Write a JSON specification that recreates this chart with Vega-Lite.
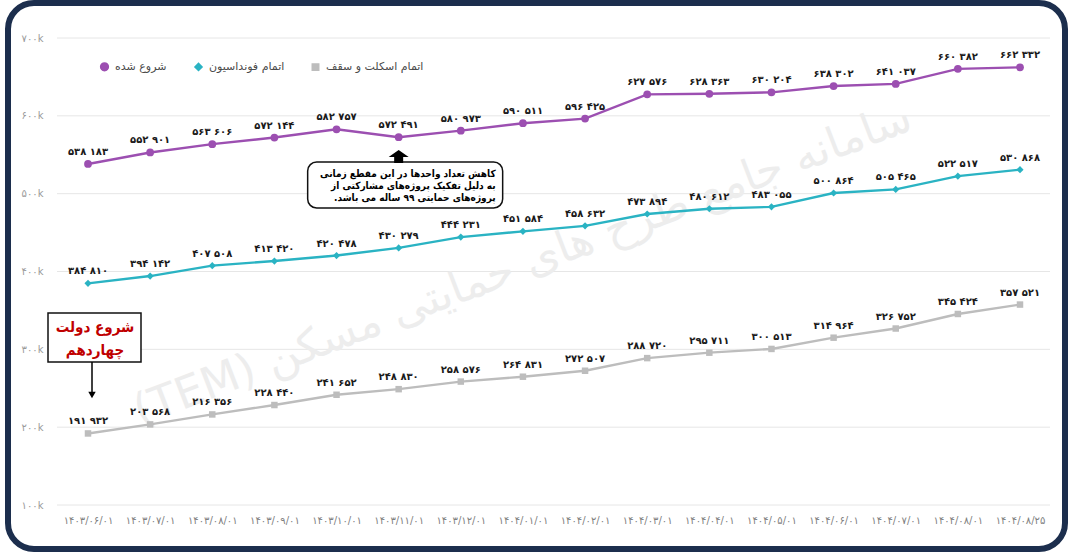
{
  "$schema": "https://vega.github.io/schema/vega-lite/v6.json",
  "width": 1057,
  "height": 546,
  "autosize": {"type": "none"},
  "padding": {"left": 8, "top": 3, "right": 8, "bottom": 5},
  "background": "white",
  "config": {
    "view": {"stroke": "#1c2e4d", "strokeWidth": 6, "cornerRadius": 26, "fill": "white"},
    "font": "DejaVu Sans",
    "axis": {"grid": false, "domain": false, "ticks": false, "title": null},
    "axisX": {"labelAngle": 0, "offset": -34, "labelPadding": 0, "tickSize": 0, "labelColor": "#808080", "labelFontSize": 10, "labelOverlap": false},
    "axisY": {"offset": -35, "labelPadding": 0, "tickSize": 0, "labelColor": "#9a9a9a", "labelFontSize": 10},
    "locale": {
      "number": {
        "decimal": ".",
        "thousands": " ",
        "grouping": [3],
        "currency": ["", ""],
        "numerals": ["۰", "۱", "۲", "۳", "۴", "۵", "۶", "۷", "۸", "۹"]
      }
    }
  },
  "datasets": {
    "series": [
      {"date": "۱۴۰۳/۰۶/۰۱", "series": "شروع شده", "value": 538183},
      {"date": "۱۴۰۳/۰۷/۰۱", "series": "شروع شده", "value": 552901},
      {"date": "۱۴۰۳/۰۸/۰۱", "series": "شروع شده", "value": 563606},
      {"date": "۱۴۰۳/۰۹/۰۱", "series": "شروع شده", "value": 572144},
      {"date": "۱۴۰۳/۱۰/۰۱", "series": "شروع شده", "value": 582757},
      {"date": "۱۴۰۳/۱۱/۰۱", "series": "شروع شده", "value": 572491},
      {"date": "۱۴۰۳/۱۲/۰۱", "series": "شروع شده", "value": 580973},
      {"date": "۱۴۰۴/۰۱/۰۱", "series": "شروع شده", "value": 590511},
      {"date": "۱۴۰۴/۰۲/۰۱", "series": "شروع شده", "value": 596425},
      {"date": "۱۴۰۴/۰۳/۰۱", "series": "شروع شده", "value": 627576},
      {"date": "۱۴۰۴/۰۴/۰۱", "series": "شروع شده", "value": 628363},
      {"date": "۱۴۰۴/۰۵/۰۱", "series": "شروع شده", "value": 630204},
      {"date": "۱۴۰۴/۰۶/۰۱", "series": "شروع شده", "value": 638302},
      {"date": "۱۴۰۴/۰۷/۰۱", "series": "شروع شده", "value": 641037},
      {"date": "۱۴۰۴/۰۸/۰۱", "series": "شروع شده", "value": 660382},
      {"date": "۱۴۰۴/۰۸/۲۵", "series": "شروع شده", "value": 662332},
      {"date": "۱۴۰۳/۰۶/۰۱", "series": "اتمام فونداسیون", "value": 384810},
      {"date": "۱۴۰۳/۰۷/۰۱", "series": "اتمام فونداسیون", "value": 394142},
      {"date": "۱۴۰۳/۰۸/۰۱", "series": "اتمام فونداسیون", "value": 407508},
      {"date": "۱۴۰۳/۰۹/۰۱", "series": "اتمام فونداسیون", "value": 413420},
      {"date": "۱۴۰۳/۱۰/۰۱", "series": "اتمام فونداسیون", "value": 420478},
      {"date": "۱۴۰۳/۱۱/۰۱", "series": "اتمام فونداسیون", "value": 430279},
      {"date": "۱۴۰۳/۱۲/۰۱", "series": "اتمام فونداسیون", "value": 444231},
      {"date": "۱۴۰۴/۰۱/۰۱", "series": "اتمام فونداسیون", "value": 451584},
      {"date": "۱۴۰۴/۰۲/۰۱", "series": "اتمام فونداسیون", "value": 458632},
      {"date": "۱۴۰۴/۰۳/۰۱", "series": "اتمام فونداسیون", "value": 473894},
      {"date": "۱۴۰۴/۰۴/۰۱", "series": "اتمام فونداسیون", "value": 480612},
      {"date": "۱۴۰۴/۰۵/۰۱", "series": "اتمام فونداسیون", "value": 483055},
      {"date": "۱۴۰۴/۰۶/۰۱", "series": "اتمام فونداسیون", "value": 500864},
      {"date": "۱۴۰۴/۰۷/۰۱", "series": "اتمام فونداسیون", "value": 505465},
      {"date": "۱۴۰۴/۰۸/۰۱", "series": "اتمام فونداسیون", "value": 522517},
      {"date": "۱۴۰۴/۰۸/۲۵", "series": "اتمام فونداسیون", "value": 530868},
      {"date": "۱۴۰۳/۰۶/۰۱", "series": "اتمام اسکلت و سقف", "value": 191932},
      {"date": "۱۴۰۳/۰۷/۰۱", "series": "اتمام اسکلت و سقف", "value": 203568},
      {"date": "۱۴۰۳/۰۸/۰۱", "series": "اتمام اسکلت و سقف", "value": 216356},
      {"date": "۱۴۰۳/۰۹/۰۱", "series": "اتمام اسکلت و سقف", "value": 228440},
      {"date": "۱۴۰۳/۱۰/۰۱", "series": "اتمام اسکلت و سقف", "value": 241652},
      {"date": "۱۴۰۳/۱۱/۰۱", "series": "اتمام اسکلت و سقف", "value": 248830},
      {"date": "۱۴۰۳/۱۲/۰۱", "series": "اتمام اسکلت و سقف", "value": 258576},
      {"date": "۱۴۰۴/۰۱/۰۱", "series": "اتمام اسکلت و سقف", "value": 264831},
      {"date": "۱۴۰۴/۰۲/۰۱", "series": "اتمام اسکلت و سقف", "value": 272507},
      {"date": "۱۴۰۴/۰۳/۰۱", "series": "اتمام اسکلت و سقف", "value": 288720},
      {"date": "۱۴۰۴/۰۴/۰۱", "series": "اتمام اسکلت و سقف", "value": 295711},
      {"date": "۱۴۰۴/۰۵/۰۱", "series": "اتمام اسکلت و سقف", "value": 300513},
      {"date": "۱۴۰۴/۰۶/۰۱", "series": "اتمام اسکلت و سقف", "value": 314964},
      {"date": "۱۴۰۴/۰۷/۰۱", "series": "اتمام اسکلت و سقف", "value": 326752},
      {"date": "۱۴۰۴/۰۸/۰۱", "series": "اتمام اسکلت و سقف", "value": 345424},
      {"date": "۱۴۰۴/۰۸/۲۵", "series": "اتمام اسکلت و سقف", "value": 357521}
    ],
    "grid": [
      {"v": 100000}, {"v": 200000}, {"v": 300000}, {"v": 400000},
      {"v": 500000}, {"v": 600000}, {"v": 700000}
    ],
    "one": [{"k": 1}]
  },
  "layer": [
    {
      "data": {"name": "series"},
      "mark": {"type": "line", "strokeWidth": 2.3, "strokeOpacity": 0},
      "encoding": {
        "x": {
          "field": "date", "type": "ordinal",
          "scale": {"type": "point", "padding": 0, "domain": ["۱۴۰۳/۰۶/۰۱", "۱۴۰۳/۰۷/۰۱", "۱۴۰۳/۰۸/۰۱", "۱۴۰۳/۰۹/۰۱", "۱۴۰۳/۱۰/۰۱", "۱۴۰۳/۱۱/۰۱", "۱۴۰۳/۱۲/۰۱", "۱۴۰۴/۰۱/۰۱", "۱۴۰۴/۰۲/۰۱", "۱۴۰۴/۰۳/۰۱", "۱۴۰۴/۰۴/۰۱", "۱۴۰۴/۰۵/۰۱", "۱۴۰۴/۰۶/۰۱", "۱۴۰۴/۰۷/۰۱", "۱۴۰۴/۰۸/۰۱", "۱۴۰۴/۰۸/۲۵"], "range": [80, 1012]}
        },
        "y": {
          "field": "value", "type": "quantitative",
          "scale": {"domain": [43470, 744970], "nice": false, "zero": false},
          "axis": {"values": [100000, 200000, 300000, 400000, 500000, 600000, 700000], "format": "~s"}
        },
        "detail": {"field": "series", "type": "nominal"}
      }
    },
    {
      "data": {"name": "grid"},
      "mark": {"type": "rule", "stroke": "#e6e6e6", "strokeWidth": 1, "xOffset": -31, "x2Offset": 30},
      "encoding": {
        "x": {"datum": "۱۴۰۳/۰۶/۰۱", "type": "ordinal"},
        "x2": {"datum": "۱۴۰۴/۰۸/۲۵"},
        "y": {"field": "v", "type": "quantitative"}
      }
    },
    {
      "data": {"name": "one"},
      "mark": {"type": "text", "text": "\u202bسامانه جامع طرح های حمایتی مسکن (TEM)\u202c", "angle": -21, "fontSize": 44, "fill": "#ededed", "align": "center", "baseline": "middle"},
      "encoding": {
        "x": {"datum": "۱۴۰۴/۰۱/۰۱", "type": "ordinal"},
        "y": {"datum": 408000, "type": "quantitative"}
      }
    },
    {
      "data": {"name": "series"},
      "mark": {"type": "line", "strokeWidth": 2.4},
      "encoding": {
        "x": {"field": "date", "type": "ordinal"},
        "y": {"field": "value", "type": "quantitative"},
        "stroke": {
          "field": "series", "type": "nominal",
          "scale": {"domain": ["شروع شده", "اتمام فونداسیون", "اتمام اسکلت و سقف"], "range": ["#9c4fb1", "#2ab3c3", "#bdbdbd"]}
        }
      }
    },
    {
      "data": {"name": "series"},
      "mark": {"type": "point", "filled": true, "opacity": 1},
      "encoding": {
        "x": {"field": "date", "type": "ordinal"},
        "y": {"field": "value", "type": "quantitative"},
        "color": {
          "field": "series", "type": "nominal",
          "scale": {"domain": ["شروع شده", "اتمام فونداسیون", "اتمام اسکلت و سقف"], "range": ["#9c4fb1", "#2ab3c3", "#bdbdbd"]},
          "legend": {
            "orient": "none", "legendX": 91, "legendY": 58, "direction": "horizontal", "title": null,
            "labelFontSize": 11, "labelColor": "#4a4a4a", "symbolSize": 164, "columnPadding": 24, "labelOffset": 5
          }
        },
        "shape": {
          "field": "series", "type": "nominal",
          "scale": {"domain": ["شروع شده", "اتمام فونداسیون", "اتمام اسکلت و سقف"], "range": ["circle", "diamond", "square"]}
        },
        "size": {
          "field": "series", "type": "nominal",
          "scale": {"domain": ["شروع شده", "اتمام فونداسیون", "اتمام اسکلت و سقف"], "range": [60, 42, 60]}
        }
      }
    },
    {
      "data": {"name": "series"},
      "mark": {"type": "text", "dy": -12, "fontSize": 10, "fontWeight": "bold", "fill": "#1a1a1a", "align": "center", "baseline": "middle"},
      "encoding": {
        "x": {"field": "date", "type": "ordinal"},
        "y": {"field": "value", "type": "quantitative"},
        "text": {"field": "value", "type": "quantitative", "format": ",d"}
      }
    },
    {
      "data": {"name": "one"},
      "mark": {"type": "rect", "fill": "white", "stroke": "#111111", "strokeWidth": 1.5, "cornerRadius": 9, "xOffset": -91, "x2Offset": 104},
      "encoding": {
        "x": {"datum": "۱۴۰۳/۱۱/۰۱", "type": "ordinal", "scale": {"type": "point"}},
        "x2": {"datum": "۱۴۰۳/۱۱/۰۱"},
        "y": {"datum": 540700, "type": "quantitative"},
        "y2": {"datum": 481600}
      }
    },
    {
      "data": {"name": "one"},
      "mark": {"type": "text", "text": ["کاهش تعداد واحدها در این مقطع زمانی", "به دلیل تفکیک پروژه‌های مشارکتی از", "پروژه‌های حمایتی ۹۹ ساله می باشد.\u200f"], "align": "right", "baseline": "middle", "xOffset": 97, "font": "DejaVu Sans Condensed", "fontSize": 10, "fontWeight": "bold", "lineHeight": 12, "fill": "#000000"},
      "encoding": {
        "x": {"datum": "۱۴۰۳/۱۱/۰۱", "type": "ordinal"},
        "y": {"datum": 525300, "type": "quantitative"}
      }
    },
    {
      "data": {"name": "one"},
      "mark": {"type": "point", "filled": true, "fill": "#000000", "opacity": 1, "size": 400, "shape": "M0,-0.65L1,0.05L0.45,0.05L0.45,0.65L-0.45,0.65L-0.45,0.05L-1,0.05Z"},
      "encoding": {
        "x": {"datum": "۱۴۰۳/۱۱/۰۱", "type": "ordinal"},
        "y": {"datum": 547750, "type": "quantitative"}
      }
    },
    {
      "data": {"name": "one"},
      "mark": {"type": "rect", "fill": "white", "stroke": "#111111", "strokeWidth": 1.5, "xOffset": -40, "x2Offset": 53},
      "encoding": {
        "x": {"datum": "۱۴۰۳/۰۶/۰۱", "type": "ordinal", "scale": {"type": "point"}},
        "x2": {"datum": "۱۴۰۳/۰۶/۰۱"},
        "y": {"datum": 346700, "type": "quantitative"},
        "y2": {"datum": 283700}
      }
    },
    {
      "data": {"name": "one"},
      "mark": {"type": "text", "text": ["شروع دولت", "چهاردهم"], "align": "center", "baseline": "middle", "xOffset": 7, "font": "DejaVu Sans Condensed", "fontSize": 15, "fontWeight": "bold", "lineHeight": 23, "fill": "#c00000"},
      "encoding": {
        "x": {"datum": "۱۴۰۳/۰۶/۰۱", "type": "ordinal"},
        "y": {"datum": 328700, "type": "quantitative"}
      }
    },
    {
      "data": {"name": "one"},
      "mark": {"type": "rule", "stroke": "#000000", "strokeWidth": 1.5, "xOffset": 4},
      "encoding": {
        "x": {"datum": "۱۴۰۳/۰۶/۰۱", "type": "ordinal"},
        "y": {"datum": 283700, "type": "quantitative"},
        "y2": {"datum": 244500}
      }
    },
    {
      "data": {"name": "one"},
      "mark": {"type": "point", "shape": "triangle-down", "filled": true, "fill": "#000000", "opacity": 1, "size": 55, "xOffset": 4},
      "encoding": {
        "x": {"datum": "۱۴۰۳/۰۶/۰۱", "type": "ordinal"},
        "y": {"datum": 241300, "type": "quantitative"}
      }
    }
  ]
}
